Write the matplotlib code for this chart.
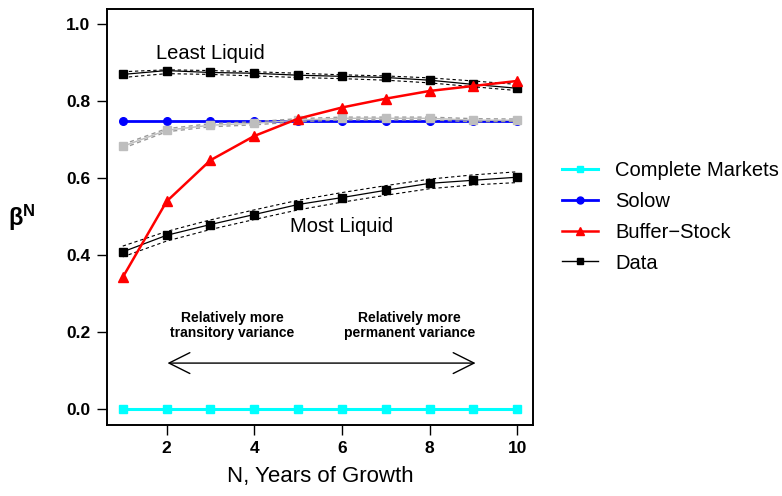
import numpy as np
import matplotlib
matplotlib.use("Agg")
import matplotlib.pyplot as plt
from matplotlib.lines import Line2D

plt.rcParams['font.family'] = ['Liberation Sans', 'DejaVu Sans']
plt.rcParams['mathtext.fontset'] = 'custom'
plt.rcParams['mathtext.rm'] = 'Liberation Sans:bold'
plt.rcParams['mathtext.it'] = 'Liberation Sans:bold'
plt.rcParams['mathtext.bf'] = 'Liberation Sans:bold'

# years of growth
years = np.arange(1, 11)

# model series
complete_markets = [0.0] * 10
solow = [0.75] * 10
buffer_stock = [0.343, 0.540, 0.647, 0.710, 0.755, 0.784, 0.807, 0.827, 0.840, 0.853]

# data: least liquid, middle (grey), most liquid
least_liquid = [0.870, 0.880, 0.875, 0.873, 0.868, 0.865, 0.862, 0.855, 0.844, 0.834]
least_hi = [0.877, 0.882, 0.880, 0.877, 0.873, 0.869, 0.866, 0.861, 0.853, 0.844]
least_lo = [0.862, 0.872, 0.870, 0.866, 0.862, 0.859, 0.855, 0.848, 0.838, 0.828]

middle = [0.683, 0.725, 0.738, 0.743, 0.751, 0.756, 0.756, 0.756, 0.751, 0.751]
middle_hi = [0.688, 0.729, 0.742, 0.747, 0.755, 0.759, 0.759, 0.759, 0.755, 0.754]
middle_lo = [0.678, 0.721, 0.734, 0.739, 0.747, 0.752, 0.752, 0.752, 0.747, 0.748]

most_liquid = [0.409, 0.452, 0.480, 0.506, 0.532, 0.550, 0.569, 0.587, 0.595, 0.603]
most_hi = [0.424, 0.462, 0.492, 0.518, 0.543, 0.563, 0.581, 0.598, 0.609, 0.617]
most_lo = [0.396, 0.437, 0.467, 0.493, 0.518, 0.538, 0.556, 0.573, 0.583, 0.589]

legend_labels = ["Complete Markets", "Solow", "Buffer\u2212Stock", "Data"]

fig = plt.figure(figsize=(7.82, 4.96), dpi=100)
ax = fig.add_axes([0.1368, 0.1438, 0.6816 - 0.1368, 0.9819 - 0.1438])

dash = (0, (3, 2.5))

# confidence bands and data
ax.plot(years, least_hi, color='black', lw=0.8, ls=dash)
ax.plot(years, least_lo, color='black', lw=0.8, ls=dash)
ax.plot(years, least_liquid, color='black', lw=0.9, marker='s', ms=5.5)

ax.plot(years, most_hi, color='black', lw=0.8, ls=dash)
ax.plot(years, most_lo, color='black', lw=0.8, ls=dash)
ax.plot(years, most_liquid, color='black', lw=0.9, marker='s', ms=5.5)

ax.plot(years, solow, color='blue', lw=2.0, marker='o', ms=5.5)

ax.plot(years, middle_hi, color='#999999', lw=1.0, ls=dash)
ax.plot(years, middle_lo, color='#999999', lw=1.0, ls=dash)
ax.plot(years, middle, color='#bebebe', lw=1.0, marker='s', ms=5.5)

ax.plot(years, buffer_stock, color='red', lw=1.8, marker='^', ms=6.5)
ax.plot(years, complete_markets, color='cyan', lw=2.2, marker='s', ms=5.5)

# annotations
ax.text(3.0, 0.924, "Least Liquid", ha='center', va='center', fontsize=14.5)
ax.text(6.0, 0.474, "Most Liquid", ha='center', va='center', fontsize=14.5)
ax.text(3.5, 0.218, "Relatively more\ntransitory variance", ha='center', va='center',
        fontsize=10, fontweight='bold', linespacing=1.15)
ax.text(7.55, 0.218, "Relatively more\npermanent variance", ha='center', va='center',
        fontsize=10, fontweight='bold', linespacing=1.15)
ax.annotate("", xy=(2.02, 0.12), xytext=(9.05, 0.12),
            arrowprops=dict(arrowstyle="<->,head_length=1.5,head_width=0.75",
                            color='black', lw=1.0, shrinkA=0, shrinkB=0),
            annotation_clip=False)

ax.set_xlim(0.64, 10.36)
ax.set_ylim(-0.04, 1.04)
ax.set_xticks([2, 4, 6, 8, 10])
ax.set_yticks([0.0, 0.2, 0.4, 0.6, 0.8, 1.0])
ax.set_yticklabels(["0.0", "0.2", "0.4", "0.6", "0.8", "1.0"])
ax.tick_params(direction='out', length=7, width=1.0, labelsize=12.5, pad=5)
for lab in ax.get_xticklabels() + ax.get_yticklabels():
    lab.set_fontweight('bold')
for sp in ax.spines.values():
    sp.set_linewidth(1.4)

ax.set_xlabel("N, Years of Growth", fontsize=16, labelpad=7)
fig.text(22 / 782, 1 - 218 / 496, r"$\mathrm{\beta^{N}}$", fontsize=17,
         ha='center', va='center')

handles = [
    Line2D([], [], color='cyan', lw=2.2, marker='s', ms=5),
    Line2D([], [], color='blue', lw=2.0, marker='o', ms=5),
    Line2D([], [], color='red', lw=1.8, marker='^', ms=6),
    Line2D([], [], color='black', lw=1.0, marker='s', ms=4.5),
]
fig.legend(handles, legend_labels, loc='center left',
           bbox_to_anchor=(562 / 782, 1 - 217 / 496), frameon=False,
           fontsize=14.5, handlelength=1.8, handletextpad=0.85,
           labelspacing=0.58, borderpad=0, borderaxespad=0)

fig.savefig("out.png", dpi=100)
